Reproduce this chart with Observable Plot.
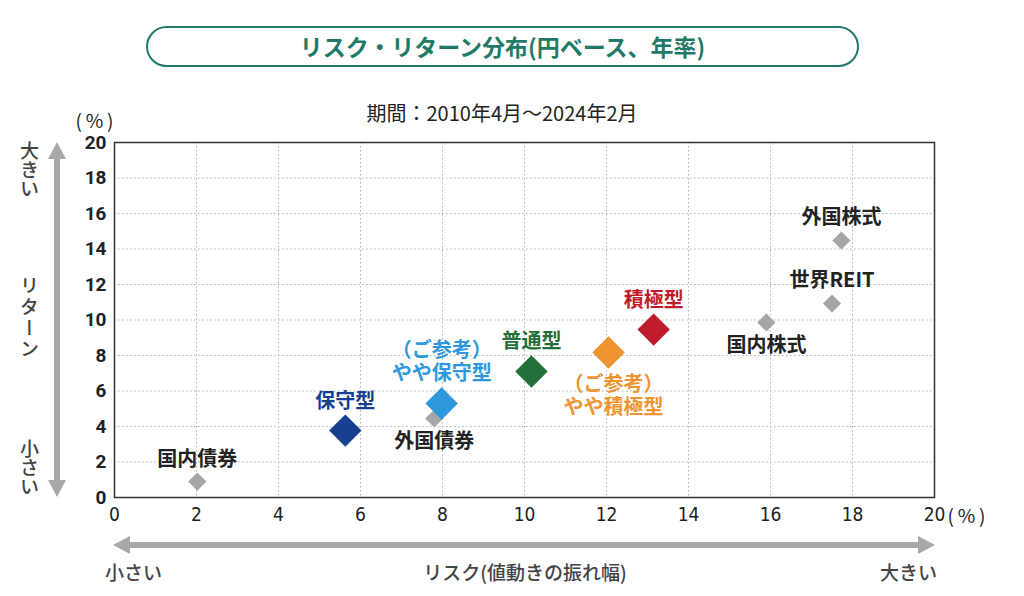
<!DOCTYPE html>
<html><head><meta charset="utf-8">
<script src="https://cdn.jsdelivr.net/npm/d3@7"></script>
<script src="https://cdn.jsdelivr.net/npm/@observablehq/plot@0.6"></script>
<style>
body{margin:0;background:#fff;font-family:"Noto Sans CJK JP","Noto Sans",sans-serif;}
#wrap{position:relative;width:1024px;height:596px;overflow:hidden;}
#wrap svg{position:absolute;left:0;top:0;}
.ov{position:absolute;white-space:nowrap;color:#222;}
#title{left:146px;top:26px;width:709px;height:37px;border:2px solid #1f7a68;border-radius:21px;
 text-align:center;line-height:37px;font-size:23px;font-weight:700;color:#1f7a68;}
.vt{writing-mode:vertical-rl;font-size:19px;font-weight:500;color:#444;}
.bt{font-size:19px;font-weight:500;color:#444;}
</style></head>
<body><div id="wrap">
<div id="title" class="ov">リスク・リターン分布(円ベース、年率)</div>
<div class="ov" style="left:0;width:1004px;text-align:center;top:98px;font-size:20px;">期間：2010年4月～2024年2月</div>
<div class="ov vt" style="left:16px;top:141px;">大きい</div>
<div class="ov vt" style="left:16px;top:276px;letter-spacing:2px;">リターン</div>
<div class="ov vt" style="left:16px;top:439px;">小さい</div>
<div class="ov bt" style="left:105px;top:558px;">小さい</div>
<div class="ov bt" style="left:0;width:1050px;text-align:center;top:558px;">リスク(値動きの振れ幅)</div>
<div class="ov bt" style="left:880px;top:558px;">大きい</div>
</div>
<script>
// ---- data ----
const names   = ["国内債券","保守型","外国債券","（ご参考）\nやや保守型","普通型","（ご参考）\nやや積極型","積極型","国内株式","世界REIT","外国株式"];
const risk    = [2.02, 5.63, 7.8, 7.98, 10.17, 12.05, 13.15, 15.9, 17.5, 17.73];
const ret     = [0.9, 3.77, 4.45, 5.3, 7.1, 8.17, 9.46, 9.86, 10.93, 14.48];
const kind    = ["asset","fund","asset","fund","fund","fund","fund","asset","asset","asset"];
const colors  = ["#a6a6a6","#173f8f","#a6a6a6","#2f98dd","#23703a","#ee9430","#c01c2c","#a6a6a6","#a6a6a6","#a6a6a6"];
const labelColors = ["#222","#173f8f","#222","#2f98dd","#23703a","#ee9430","#c01c2c","#222","#222","#222"];
const xTicks  = [0,2,4,6,8,10,12,14,16,18,20];
const yTicks  = [0,2,4,6,8,10,12,14,16,18,20];
const unitLabel = "(\u2009%\u2009)";
// label placement (above / below the marker)
const labelSide = ["above","above","below","above","above","below","above","below","above","above"];

const data = names.map((n,i)=>({name:n, risk:risk[i], ret:ret[i], kind:kind[i], color:colors[i], lc:labelColors[i], side:labelSide[i]}));
const assets = data.filter(d=>d.kind==="asset");
const funds = data.filter(d=>d.kind==="fund");

const jp = "Noto Sans CJK JP, Noto Sans, sans-serif";
const num = "Liberation Sans Narrow, DejaVu Sans Condensed, Roboto, sans-serif";

const plot = Plot.plot({
  width:1024, height:596,
  marginLeft:114, marginRight:90, marginTop:142, marginBottom:99,
  x:{domain:[0,20]}, y:{domain:[0,20]},
  color:{type:"identity"},
  style:{fontFamily:jp, background:"transparent"},
  marks:[
    Plot.gridX(xTicks.filter(t=>t>0&&t<20), {stroke:"#b0b0b0", strokeOpacity:1, strokeDasharray:"1.5,2.5"}),
    Plot.gridY(yTicks.filter(t=>t>0&&t<20), {stroke:"#b0b0b0", strokeOpacity:1, strokeDasharray:"1.5,2.5"}),
    Plot.frame({stroke:"#333", strokeWidth:1.5}),
    Plot.axisY(yTicks, {tickSize:0, tickPadding:8, fontSize:19, fontWeight:"bold", fontFamily:"Roboto, Noto Sans, sans-serif", fill:"#222", label:null}),
    Plot.axisX(xTicks, {tickSize:0, tickPadding:10, fontSize:19, fontFamily:num, fill:"#222", label:null}),
    Plot.text([{x:0,y:20}], {x:"x", y:"y", text:()=>unitLabel, dx:-20, dy:-21, fontSize:19, fill:"#222"}),
    Plot.text([{x:20,y:0}], {x:"x", y:"y", text:()=>unitLabel, dx:13, dy:19, textAnchor:"start", fontSize:19, fill:"#222"}),
    Plot.dot(assets, {x:"risk", y:"ret", symbol:"diamond2", r:8.2, fill:"color"}),
    Plot.dot(funds, {x:"risk", y:"ret", symbol:"diamond2", r:14.6, fill:"color"}),
    Plot.text(assets.filter(d=>d.side==="above"), {x:"risk", y:"ret", text:"name", fill:"lc", lineAnchor:"bottom", dy:-16, fontSize:20, fontWeight:"bold"}),
    Plot.text(assets.filter(d=>d.side==="below"), {x:"risk", y:"ret", text:"name", fill:"lc", lineAnchor:"top", dy:15, fontSize:20, fontWeight:"bold"}),
    Plot.text(funds.filter(d=>d.side==="above"), {x:"risk", y:"ret", text:"name", fill:"lc", lineAnchor:"bottom", dy:-23, fontSize:20, fontWeight:"bold", lineHeight:1.15}),
    Plot.text(funds.filter(d=>d.side==="below"), {x:"risk", y:"ret", text:"name", fill:"lc", lineAnchor:"top", dy:22, dx:5, fontSize:20, fontWeight:"bold", lineHeight:1.15})
  ]
});
document.getElementById("wrap").prepend(plot);

// decorative double-headed arrows
const svg = d3.select(plot);
const g = svg.append("g").attr("fill","#a8a8a8");
function vArrow(x, y0, y1){
  const hw=9, hl=17, sw=3;
  g.append("path").attr("d",`M${x},${y0} L${x+hw},${y0+hl} L${x+sw},${y0+hl} L${x+sw},${y1-hl} L${x+hw},${y1-hl} L${x},${y1} L${x-hw},${y1-hl} L${x-sw},${y1-hl} L${x-sw},${y0+hl} L${x-hw},${y0+hl} Z`);
}
function hArrow(y, x0, x1){
  const hw=9, hl=17, sw=3;
  g.append("path").attr("d",`M${x0},${y} L${x0+hl},${y-hw} L${x0+hl},${y-sw} L${x1-hl},${y-sw} L${x1-hl},${y-hw} L${x1},${y} L${x1-hl},${y+hw} L${x1-hl},${y+sw} L${x0+hl},${y+sw} L${x0+hl},${y+hw} Z`);
}
vArrow(57, 142, 497);
hArrow(545, 113, 935);
</script>
</body></html>
